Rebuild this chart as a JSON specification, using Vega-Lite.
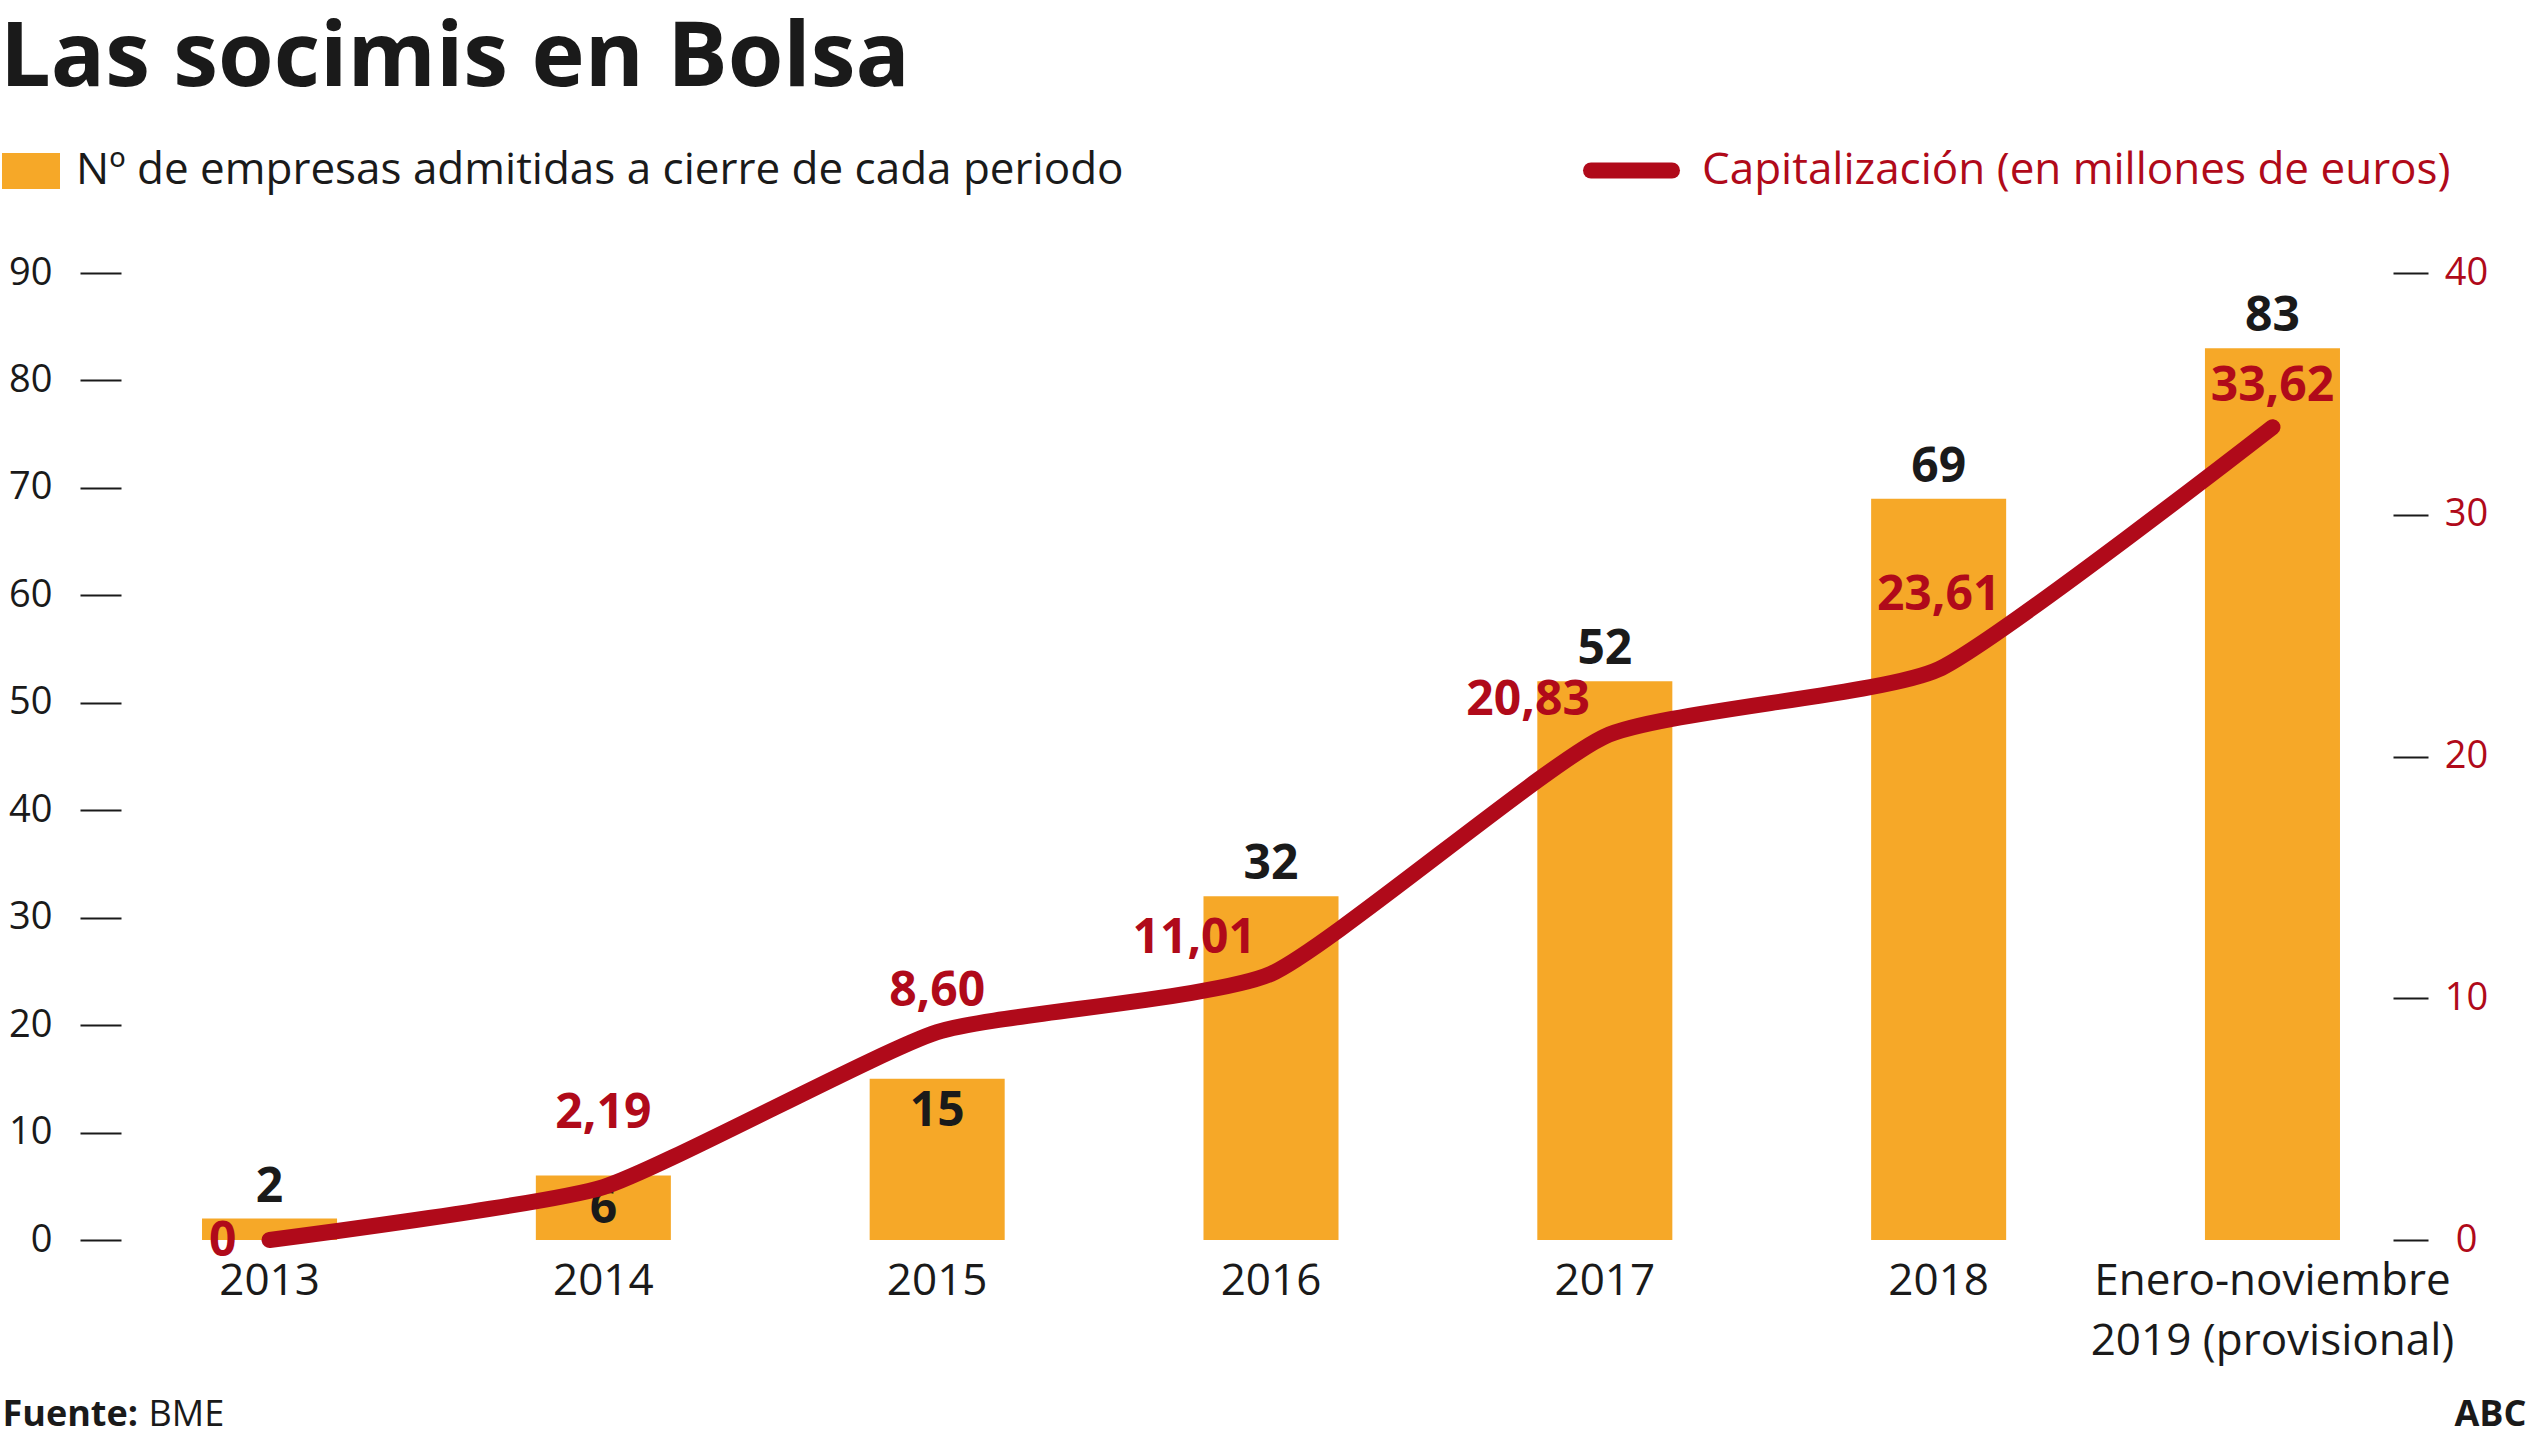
{
  "$schema": "https://vega.github.io/schema/vega-lite/v6.json",
  "autosize": {"type": "none"},
  "padding": {"left": 121, "top": 273, "right": 109, "bottom": 196},
  "width": 2300,
  "height": 967,
  "background": "white",
  "config": {"view": {"stroke": null}, "font": "Open Sans"},
  "title": {
    "text": "Las socimis en Bolsa",
    "anchor": "start",
    "frame": "group",
    "font": "Open Sans",
    "fontSize": 90,
    "fontWeight": "bold",
    "color": "#1a1a1a",
    "baseline": "alphabetic",
    "dx": -121,
    "offset": -54
  },
  "data": {
    "values": [
      {"periodo": "2013", "empresas": 2, "capitalizacion": 0, "cap_label": "0"},
      {"periodo": "2014", "empresas": 6, "capitalizacion": 2.19, "cap_label": "2,19"},
      {"periodo": "2015", "empresas": 15, "capitalizacion": 8.6, "cap_label": "8,60"},
      {"periodo": "2016", "empresas": 32, "capitalizacion": 11.01, "cap_label": "11,01"},
      {"periodo": "2017", "empresas": 52, "capitalizacion": 20.83, "cap_label": "20,83"},
      {"periodo": "2018", "empresas": 69, "capitalizacion": 23.61, "cap_label": "23,61"},
      {"periodo": "Enero-noviembre 2019 (provisional)", "empresas": 83, "capitalizacion": 33.62, "cap_label": "33,62"}
    ]
  },
  "encoding": {
    "x": {
      "field": "periodo",
      "type": "nominal",
      "sort": null,
      "scale": {"paddingInner": 0.5955, "paddingOuter": 0.2427},
      "axis": {
        "domain": false,
        "ticks": false,
        "labelAngle": 0,
        "labelFont": "Open Sans",
        "labelFontSize": 44,
        "labelColor": "#1a1a1a",
        "labelPadding": 19,
        "labelLimit": 0,
        "labelLineHeight": 60,
        "labelExpr": "datum.label == 'Enero-noviembre 2019 (provisional)' ? ['Enero-noviembre', '2019 (provisional)'] : datum.label",
        "title": "BME",
        "titleX": 27,
        "titleY": 185,
        "titleAlign": "left",
        "titleBaseline": "alphabetic",
        "titleFont": "Open Sans",
        "titleFontSize": 36,
        "titleFontWeight": "normal",
        "titleColor": "#1a1a1a"
      }
    }
  },
  "layer": [
    {
      "encoding": {
        "y": {
          "field": "empresas",
          "type": "quantitative",
          "scale": {"domain": [0, 90]},
          "axis": {
            "orient": "left",
            "values": [0, 10, 20, 30, 40, 50, 60, 70, 80, 90],
            "domain": false,
            "grid": false,
            "tickSize": 41,
            "tickWidth": 2,
            "tickColor": "#1a1a1a",
            "labelFont": "Open Sans",
            "labelFontSize": 38,
            "labelPadding": 28,
            "labelColor": "#1a1a1a",
            "title": "Fuente:",
            "titleAngle": 0,
            "titleX": -119,
            "titleY": 1152,
            "titleAlign": "left",
            "titleBaseline": "alphabetic",
            "titleFont": "Open Sans",
            "titleFontSize": 36,
            "titleFontWeight": "bold",
            "titleColor": "#1a1a1a"
          }
        }
      },
      "layer": [
        {
          "mark": {"type": "bar"},
          "encoding": {
            "fill": {
              "datum": "Nº de empresas admitidas a cierre de cada periodo",
              "type": "nominal",
              "scale": {"range": ["#F6A828"]},
              "legend": {
                "title": null,
                "orient": "none",
                "legendX": -119,
                "legendY": -131,
                "padding": 0,
                "symbolType": "M-1,-0.62H1V0.62H-1Z",
                "symbolSize": 3364,
                "symbolStrokeWidth": 0,
                "labelFont": "Open Sans",
                "labelFontSize": 44,
                "labelColor": "#1a1a1a",
                "labelOffset": 16,
                "labelLimit": 0
              }
            }
          }
        },
        {
          "transform": [{"filter": "datum.periodo != '2014' && datum.periodo != '2015'"}],
          "mark": {"type": "text", "baseline": "alphabetic", "dy": -17, "fontSize": 48, "fontWeight": "bold", "font": "Open Sans", "color": "#1a1a1a"},
          "encoding": {"text": {"field": "empresas", "type": "quantitative"}}
        },
        {
          "transform": [{"filter": "datum.periodo == '2014' || datum.periodo == '2015'"}],
          "mark": {"type": "text", "baseline": "alphabetic", "dy": 47, "fontSize": 48, "fontWeight": "bold", "font": "Open Sans", "color": "#1a1a1a"},
          "encoding": {"text": {"field": "empresas", "type": "quantitative"}}
        }
      ]
    },
    {
      "encoding": {
        "y": {
          "field": "capitalizacion",
          "type": "quantitative",
          "scale": {"domain": [0, 40]},
          "axis": {
            "orient": "right",
            "offset": -28,
            "values": [0, 10, 20, 30, 40],
            "domain": false,
            "grid": false,
            "tickSize": 35,
            "tickWidth": 2,
            "tickColor": "#1a1a1a",
            "labelFont": "Open Sans",
            "labelFontSize": 38,
            "labelAlign": "center",
            "labelPadding": 38,
            "labelColor": "#B00A1A",
            "title": "ABC",
            "titleAngle": 0,
            "titleX": 133,
            "titleY": 1152,
            "titleAlign": "right",
            "titleBaseline": "alphabetic",
            "titleFont": "Open Sans",
            "titleFontSize": 36,
            "titleFontWeight": "bold",
            "titleColor": "#1a1a1a"
          }
        }
      },
      "layer": [
        {
          "mark": {"type": "line", "strokeWidth": 16, "strokeCap": "round", "strokeJoin": "round", "interpolate": "cardinal", "tension": 0.5},
          "encoding": {
            "stroke": {
              "datum": "Capitalización (en millones de euros)",
              "type": "nominal",
              "scale": {"range": ["#B00A1A"]},
              "legend": {
                "title": null,
                "orient": "none",
                "legendX": 1462,
                "legendY": -151,
                "padding": 0,
                "symbolType": "stroke",
                "symbolSize": 6561,
                "symbolStrokeWidth": 16,
                "labelFont": "Open Sans",
                "labelFontSize": 44,
                "labelColor": "#B00A1A",
                "labelOffset": 22,
                "labelLimit": 0,
                "encode": {"symbols": {"update": {"strokeCap": {"value": "round"}}}}
              }
            }
          }
        },
        {
          "transform": [{"filter": "datum.periodo == '2014' || datum.periodo == '2018'"}],
          "mark": {"type": "text", "baseline": "middle", "dy": -73, "fontSize": 48, "fontWeight": "bold", "font": "Open Sans", "color": "#B00A1A"},
          "encoding": {"text": {"field": "cap_label", "type": "nominal"}}
        },
        {
          "transform": [{"filter": "datum.periodo == '2015' || indexof(datum.periodo, 'Enero') == 0"}],
          "mark": {"type": "text", "baseline": "middle", "dy": -40, "fontSize": 48, "fontWeight": "bold", "font": "Open Sans", "color": "#B00A1A"},
          "encoding": {"text": {"field": "cap_label", "type": "nominal"}}
        },
        {
          "transform": [{"filter": "datum.periodo == '2016' || datum.periodo == '2017'"}],
          "mark": {"type": "text", "baseline": "middle", "align": "right", "dx": -15, "dy": -35, "fontSize": 48, "fontWeight": "bold", "font": "Open Sans", "color": "#B00A1A"},
          "encoding": {"text": {"field": "cap_label", "type": "nominal"}}
        },
        {
          "transform": [{"filter": "datum.periodo == '2013'"}],
          "mark": {"type": "text", "baseline": "middle", "align": "right", "dx": -33, "dy": 2, "fontSize": 48, "fontWeight": "bold", "font": "Open Sans", "color": "#B00A1A"},
          "encoding": {"text": {"field": "cap_label", "type": "nominal"}}
        }
      ]
    }
  ],
  "resolve": {"scale": {"y": "independent", "fill": "independent", "stroke": "independent"}}
}
